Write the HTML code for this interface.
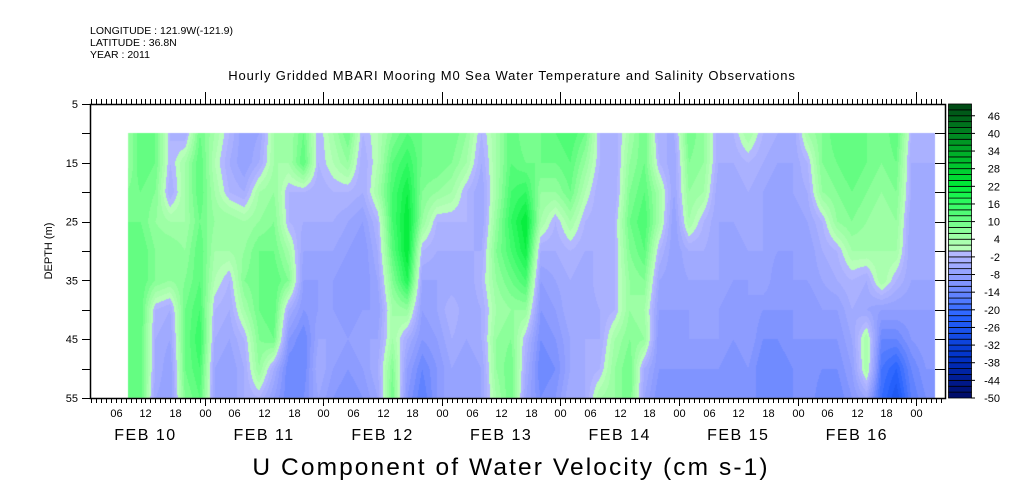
<!DOCTYPE html>
<html><head><meta charset="utf-8"><style>
body{margin:0;background:#fff;width:1009px;height:504px;overflow:hidden;position:relative;font-family:"Liberation Sans",sans-serif}
#heat{position:absolute;left:0;top:0}
#ax{position:absolute;left:0;top:0}
</style></head><body>
<canvas id="heat" width="1009" height="504"></canvas>
<svg id="ax" width="1009" height="504"></svg>
<script>
const depths=[10,15,20,25,30,35,40,45,50,55];
const hours=[];for(let i=0;i<55;i++)hours.push(8+3*i);
const colData=[
[4,4,8,10,10,10,10,10,10,10],[12,12,10,10,12,12,12,12,12,12],[10,10,8,6,8,8,-2,-4,-4,-6],[-2,-2,-4,4,8,6,-4,-6,-8,-8],
[-4,4,4,4,6,8,10,10,10,8],[10,12,12,10,12,12,14,16,14,12],[4,2,4,6,4,2,-2,-4,-6,-6],[-2,-4,-2,6,4,-2,-4,-6,-8,-8],
[-8,-8,-4,4,6,8,4,-2,-4,-4],[-6,-4,4,6,10,10,10,8,6,-2],[4,4,6,8,10,12,12,10,-4,-8],[4,4,-2,-2,4,8,-4,-10,-14,-14],
[10,12,-2,-4,-6,-8,-10,-14,-14,-12],[-2,-2,-4,-4,-6,-8,-8,-6,-4,-6],[4,2,-2,-4,-6,-8,-8,-6,-8,-10],[10,6,-2,-6,-8,-10,-10,-8,-10,-12],
[-2,-4,-4,-8,-10,-10,-8,-6,-8,-10],[2,2,4,-2,-4,-6,-8,-6,-4,-6],[8,12,14,14,12,8,4,4,8,10],[12,16,20,22,22,18,6,-4,-8,-10],
[10,10,8,6,-2,-6,-8,-10,-14,-16],[8,10,6,-2,-4,-6,-6,-8,-10,-10],[10,8,4,-2,-4,-6,-2,-4,-6,-6],[6,4,-2,-2,-4,-6,-6,-6,-8,-8],
[-2,-4,-6,-6,-4,-2,-4,-4,-6,-6],[4,4,4,6,8,6,4,6,6,4],[12,12,14,16,14,10,6,8,10,10],[8,10,16,22,20,14,6,-2,-4,-6],
[10,10,6,4,-4,-8,-10,-12,-14,-12],[12,10,6,-2,-4,-6,-8,-10,-12,-10],[14,12,10,4,-2,-4,-4,-6,-6,-4],[10,6,2,-2,-4,-6,-6,-4,-4,-4],
[-2,-2,-4,-4,-4,-2,-4,-4,-2,4],[-4,-4,-4,-2,-2,-2,-2,4,6,6],[4,6,8,10,8,6,6,8,10,10],[10,10,12,14,12,8,4,6,-4,-6],
[-4,-2,4,4,-2,-6,-8,-10,-10,-12],[-4,-6,-6,-8,-8,-8,-8,-10,-10,-10],[10,8,6,4,-4,-6,-8,-8,-10,-12],[6,6,4,-2,-4,-6,-6,-8,-10,-10],
[-4,-4,-6,-6,-6,-6,-8,-8,-10,-12],[-2,-4,-6,-6,-8,-8,-10,-10,-12,-12],[4,-2,-4,-4,-6,-8,-8,-8,-10,-10],[-2,-4,-6,-6,-6,-6,-10,-12,-14,-14],
[-4,-6,-8,-8,-8,-10,-10,-12,-14,-14],[-6,-6,-6,-8,-8,-8,-10,-10,-12,-12],[4,-2,-4,-6,-8,-8,-10,-10,-10,-10],[8,8,6,-2,-4,-6,-8,-10,-12,-14],
[12,10,8,6,-2,-4,-8,-10,-12,-14],[12,12,10,8,4,-2,-4,-6,-8,-10],[10,10,8,6,4,-4,-6,4,4,-6],[8,8,6,4,4,4,-8,-14,-18,-20],
[12,10,8,6,4,-2,-8,-14,-22,-26],[-2,-4,-4,-6,-6,-6,-8,-10,-14,-16],[-4,-4,-6,-6,-6,-6,-8,-8,-10,-12]];
const cbTicks=[46,40,34,28,22,16,10,4,-2,-8,-14,-20,-26,-32,-38,-44,-50];
const hourLabels=["06","12","18","00"];
const dayLabels=["FEB 10","FEB 11","FEB 12","FEB 13","FEB 14","FEB 15","FEB 16"];
const depthTicks=[5,15,25,35,45,55];

const X0=90,X1=945,Y0=104,Y1=398,H0=0.77,PXH=4.94;
const xs=h=>X0+(h-H0)*PXH;
const ys=d=>Y0+(d-5)*(Y1-Y0)/50;
const dataStartH=8.46,dataEndH=171.8;

function lerp(a,b,t){return a.map((v,i)=>Math.round(v+(b[i]-v)*t));}
const posStops=[[0,[190,255,190]],[6,[150,255,160]],[16,[50,250,100]],[22,[0,235,55]],[34,[0,170,40]],[50,[0,70,20]]];
const negStops=[[0,[184,188,255]],[-10,[136,152,255]],[-22,[40,100,255]],[-36,[0,50,200]],[-50,[0,10,100]]];
function cmap(v){
  v=Math.floor(v/2)*2+1;
  const st=v>=0?posStops:negStops;const a=Math.abs(v);
  for(let i=0;i<st.length-1;i++){const p=Math.abs(st[i][0]),q=Math.abs(st[i+1][0]);
    if(a<=q)return lerp(st[i][1],st[i+1][1],(a-p)/(q-p));}
  return st[st.length-1][1];
}
const ctx=document.getElementById('heat').getContext('2d');
const xa=Math.round(xs(dataStartH)),xb=Math.round(xs(dataEndH)),ya=Math.round(ys(depths[0])),yb=Y1;
const img=ctx.createImageData(xb-xa,yb-ya);
for(let px=xa;px<xb;px++){
  const h=H0+(px+0.5-X0)/PXH;
  let fi=(h-hours[0])/3;fi=Math.max(0,Math.min(hours.length-1.0001,fi));
  const i=Math.floor(fi),ti=fi-i;
  for(let py=ya;py<yb;py++){
    const d=5+(py+0.5-Y0)*50/(Y1-Y0);
    let fj=(d-depths[0])/5;fj=Math.max(0,Math.min(depths.length-1.0001,fj));
    const j=Math.floor(fj),tj=fj-j;
    const a=colData[i][j]*(1-tj)+colData[i][j+1]*tj;
    const b=colData[i+1][j]*(1-tj)+colData[i+1][j+1]*tj;
    const c=cmap(a*(1-ti)+b*ti);
    const k=((py-ya)*(xb-xa)+(px-xa))*4;
    img.data[k]=c[0];img.data[k+1]=c[1];img.data[k+2]=c[2];img.data[k+3]=255;
  }
}
ctx.putImageData(img,xa,ya);

const svg=document.getElementById('ax');const NS='http://www.w3.org/2000/svg';
function el(tag,attrs,parent,text){const e=document.createElementNS(NS,tag);for(const k in attrs)e.setAttribute(k,attrs[k]);if(text!==undefined)e.textContent=text;(parent||svg).appendChild(e);return e;}
function ln(x1,y1,x2,y2,name){const e=el('line',{x1,y1,x2,y2,stroke:'#000','stroke-width':1});

return e;}
function tx(x,y,s,size,anchor,name,ls){const e=el('text',{x,y,'font-size':size,'text-anchor':anchor||'start','font-family':'"Liberation Sans",sans-serif',fill:'#000','letter-spacing':ls||0},svg,s);

return e;}

const fr=el('rect',{x:X0+.5,y:Y0+.5,width:X1-X0,height:Y1-Y0,fill:'none',stroke:'#000','stroke-width':1.5});


for(let h=1;h<=173;h++){
  const x=Math.round(xs(h))+.5;if(x>X1)break;
  const day=h%24===0;
  ln(x,Y0,x,Y0-(day?12:5),'top-tick');
  ln(x,Y1,x,Y1+(day?8:5),'bottom-tick');
  if(h%6===0){tx(x,Y1+19,hourLabels[(h/6-1)%4],11,'middle','hour-label');}
}
dayLabels.forEach((s,i)=>tx(xs(i*24+12),Y1+42,s,16,'middle','day-label',1.5));
for(let d=5;d<=55;d+=5){const y=Math.round(ys(d))+.5;ln(X0-8,y,X0,y,'y-tick');ln(X1-10,y,X1,y,'y-tick-right');}
depthTicks.forEach(d=>tx(X0-12,ys(d)+4,String(d),11,'end','y-tick-label'));
const yt=tx(0,0,'DEPTH (m)',11,'middle','y-axis-title');yt.setAttribute('transform','translate(52,251) rotate(-90)');
tx(90,34,'LONGITUDE : 121.9W(-121.9)',10.5,'start','longitude-label');
tx(90,46,'LATITUDE : 36.8N',10.5,'start','latitude-label');
tx(90,58,'YEAR : 2011',10.5,'start','year-label');
tx(512,80,'Hourly Gridded MBARI Mooring M0 Sea Water Temperature and Salinity Observations',13,'middle','chart-title',0.9);
tx(511,475,'U Component of Water Velocity (cm s-1)',24.5,'middle','x-axis-title',2.1);
const CB0=948,CB1=971,cbh=(Y1-Y0)/50;
for(let k=0;k<50;k++){const v=-50+2*k;const c=cmap(v);
  const r=el('rect',{x:CB0+.5,y:Y1-(k+1)*cbh,width:CB1-CB0,height:cbh,fill:`rgb(${c})`,stroke:'#000','stroke-width':0.8});
  
  }
cbTicks.forEach(v=>{const y=Y1-(v+50)*cbh/2;ln(CB1,y,CB1+4,y,'colorbar-tick');tx(1000,y+4,String(v),11,'end','colorbar-label');});
</script>
</body></html>
